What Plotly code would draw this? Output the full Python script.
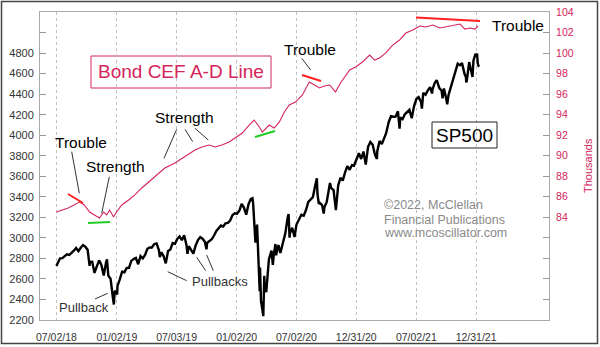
import plotly.graph_objects as go

# ---------------- data ----------------
sp_dates = [
    "2018-07-02","2018-07-06","2018-07-13","2018-07-20","2018-07-27","2018-08-03","2018-08-10","2018-08-17",
    "2018-08-24","2018-08-31","2018-09-07","2018-09-14","2018-09-21","2018-09-28","2018-10-05","2018-10-11",
    "2018-10-12","2018-10-19","2018-10-26","2018-11-02","2018-11-09","2018-11-16","2018-11-23","2018-11-30",
    "2018-12-03","2018-12-07","2018-12-14","2018-12-21","2018-12-24","2018-12-26","2018-12-28","2019-01-03",
    "2019-01-04","2019-01-11","2019-01-18","2019-01-25","2019-02-01","2019-02-08","2019-02-15","2019-02-22",
    "2019-03-01","2019-03-08","2019-03-15","2019-03-22","2019-03-29","2019-04-05","2019-04-12","2019-04-18",
    "2019-04-26","2019-05-03","2019-05-10","2019-05-13","2019-05-17","2019-05-24","2019-05-31","2019-06-07",
    "2019-06-14","2019-06-21","2019-06-28","2019-07-05","2019-07-12","2019-07-19","2019-07-26","2019-08-02",
    "2019-08-05","2019-08-09","2019-08-16","2019-08-23","2019-08-30","2019-09-06","2019-09-13","2019-09-20",
    "2019-09-27","2019-10-02","2019-10-04","2019-10-11","2019-10-18","2019-10-25","2019-11-01","2019-11-08",
    "2019-11-15","2019-11-22","2019-11-29","2019-12-06","2019-12-13","2019-12-20","2019-12-27","2020-01-03",
    "2020-01-10","2020-01-17","2020-01-24","2020-01-31","2020-02-07","2020-02-14","2020-02-19","2020-02-21",
    "2020-02-25","2020-02-28","2020-03-04","2020-03-06","2020-03-09","2020-03-12","2020-03-13","2020-03-16",
    "2020-03-20","2020-03-23","2020-03-26","2020-03-27","2020-04-01","2020-04-09","2020-04-17","2020-04-21",
    "2020-04-24","2020-04-29","2020-05-01","2020-05-08","2020-05-14","2020-05-15","2020-05-22","2020-05-29",
    "2020-06-05","2020-06-08","2020-06-11","2020-06-12","2020-06-19","2020-06-26","2020-07-02","2020-07-10",
    "2020-07-17","2020-07-24","2020-07-31","2020-08-07","2020-08-14","2020-08-21","2020-08-28","2020-09-02",
    "2020-09-04","2020-09-08","2020-09-11","2020-09-18","2020-09-23","2020-09-25","2020-10-02","2020-10-09",
    "2020-10-12","2020-10-16","2020-10-23","2020-10-30","2020-11-06","2020-11-13","2020-11-20","2020-11-27",
    "2020-12-04","2020-12-11","2020-12-18","2020-12-24","2020-12-31","2021-01-08","2021-01-15","2021-01-22",
    "2021-01-29","2021-02-05","2021-02-12","2021-02-19","2021-02-26","2021-03-04","2021-03-05","2021-03-12",
    "2021-03-19","2021-03-26","2021-04-01","2021-04-09","2021-04-16","2021-04-23","2021-04-30","2021-05-07",
    "2021-05-12","2021-05-14","2021-05-21","2021-05-28","2021-06-04","2021-06-11","2021-06-18","2021-06-25",
    "2021-07-02","2021-07-09","2021-07-16","2021-07-19","2021-07-23","2021-07-30","2021-08-06","2021-08-13",
    "2021-08-19","2021-08-20","2021-08-27","2021-09-02","2021-09-10","2021-09-17","2021-09-20","2021-09-24",
    "2021-10-01","2021-10-04","2021-10-08","2021-10-15","2021-10-22","2021-10-29","2021-11-05","2021-11-12",
    "2021-11-18","2021-11-26","2021-11-30","2021-12-01","2021-12-03","2021-12-10","2021-12-17","2021-12-20",
    "2021-12-23","2021-12-29","2021-12-31","2022-01-03","2022-01-05","2022-01-07","2022-01-10",
]
sp500 = [
    2727,2760,2801,2802,2819,2840,2833,2850,
    2875,2901,2871,2904,2930,2914,2885,2728,
    2767,2768,2658,2723,2781,2736,2633,2760,
    2790,2633,2600,2417,2351,2468,2486,2448,
    2532,2596,2671,2665,2707,2708,2776,2793,
    2804,2743,2822,2800,2834,2893,2907,2905,
    2940,2946,2881,2812,2860,2826,2752,2873,
    2887,2950,2942,2990,3014,2977,3026,2932,
    2844,2919,2889,2847,2926,2979,3007,2992,
    2962,2888,2952,2970,2986,3023,3067,3093,
    3120,3110,3141,3146,3169,3221,3240,3235,
    3265,3330,3295,3226,3328,3380,3386,3338,
    3128,2954,3130,2972,2747,2481,2711,2386,
    2305,2237,2630,2541,2471,2790,2875,2737,
    2837,2940,2831,2930,2852,2864,2955,3044,
    3194,3232,3002,3041,3098,3009,3130,3185,
    3225,3216,3271,3351,3373,3397,3508,3580,
    3427,3332,3341,3319,3237,3298,3348,3477,
    3534,3484,3465,3270,3510,3585,3558,3638,
    3699,3663,3709,3703,3756,3824,3768,3841,
    3714,3887,3934,3907,3811,3768,3842,3943,
    3913,3974,4020,4129,4185,4180,4181,4233,
    4063,4174,4156,4204,4230,4247,4166,4281,
    4352,4370,4327,4259,4412,4395,4437,4468,
    4406,4442,4509,4537,4459,4433,4358,4455,
    4357,4300,4391,4471,4545,4605,4697,4682,
    4704,4595,4567,4513,4538,4712,4620,4568,
    4725,4793,4766,4796,4701,4677,4670,
]

ad_dates = [
    "2018-07-02","2018-08-07","2018-09-10","2018-09-25","2018-10-11","2018-10-26","2018-11-10","2018-11-23",
    "2018-12-02","2018-12-11","2018-12-23","2019-01-01","2019-01-17","2019-02-07","2019-02-25","2019-03-19",
    "2019-04-09","2019-05-04","2019-05-28","2019-06-28","2019-07-28","2019-08-28","2019-09-18","2019-10-10",
    "2019-10-28","2019-11-18","2019-12-10","2019-12-28","2020-01-19","2020-02-09","2020-02-24","2020-03-11",
    "2020-03-20","2020-04-10","2020-04-25","2020-05-11","2020-05-26","2020-06-10","2020-06-29","2020-07-20",
    "2020-08-10","2020-08-26","2020-09-10","2020-09-25","2020-10-11","2020-10-29","2020-11-13","2020-12-11",
    "2020-12-29","2021-01-19","2021-02-10","2021-02-25","2021-03-12","2021-03-31","2021-04-21","2021-05-12",
    "2021-05-31","2021-06-21","2021-07-13","2021-07-31","2021-08-21","2021-09-12","2021-09-30","2021-10-21",
    "2021-11-12","2021-11-27","2021-12-12","2021-12-28","2022-01-06",
]
ad_line = [  # thousands
    84.52,84.91,85.49,85.20,84.52,84.23,83.93,84.52,
    84.23,84.71,84.03,84.52,85.20,85.69,86.17,86.86,
    87.44,88.12,88.80,89.29,89.88,90.56,90.85,91.04,
    90.85,91.04,91.34,91.73,92.21,92.99,93.48,92.80,
    92.31,92.99,92.70,93.29,94.26,94.94,95.23,95.92,
    97.18,96.89,96.60,96.79,96.89,96.21,97.08,98.35,
    98.64,99.13,99.81,99.32,99.52,100.01,100.78,101.27,
    101.95,102.25,102.64,102.54,102.73,102.44,102.54,102.73,
    102.83,102.34,102.44,102.34,102.64,
]

x_tick_dates = ["2018-07-02","2019-01-02","2019-07-03","2020-01-02","2020-07-02","2020-12-31","2021-07-02","2021-12-31"]
x_tick_text = ["07/02/18","01/02/19","07/03/19","01/02/20","07/02/20","12/31/20","07/02/21","12/31/21"]
left_ticks = list(range(2200, 5201, 200))
left_tick_text = [str(v) if v <= 4800 else "" for v in left_ticks]
right_ticks = list(range(74, 105, 2))
right_tick_text = [str(v) if v >= 84 else "" for v in right_ticks]

CRIMSON = "#d4245c"
FONT = "Arial, Liberation Sans, sans-serif"

# plot area in pixels
L, R, T, B = 40, 549, 12, 320
def P(x, y):
    return (x - L) / (R - L), (B - y) / (B - T)

fig = go.Figure()
fig.add_trace(go.Scatter(x=ad_dates, y=ad_line, yaxis="y2", mode="lines",
                         line=dict(color=CRIMSON, width=1.1), showlegend=False))
fig.add_trace(go.Scatter(x=sp_dates, y=sp500, mode="lines",
                         line=dict(color="black", width=2.4), showlegend=False))

shapes = []
# outer frame
x0, y0 = P(1.5, 1.5); x1, y1 = P(597.5, 343.5)
shapes.append(dict(type="rect", xref="paper", yref="paper", x0=x0, y0=y1, x1=x1, y1=y0,
                   line=dict(color="#444", width=1.5)))
# boxes
x0, y0 = P(91, 56); x1, y1 = P(271, 88)
shapes.append(dict(type="rect", xref="paper", yref="paper", x0=x0, y0=y1, x1=x1, y1=y0,
                   line=dict(color=CRIMSON, width=1), fillcolor="white", layer="below"))
x0, y0 = P(432, 122); x1, y1 = P(497, 148)
shapes.append(dict(type="rect", xref="paper", yref="paper", x0=x0, y0=y1, x1=x1, y1=y0,
                   line=dict(color="#222", width=1)))
# colored trend segments
segs = [((68, 194), (83, 203), "#ff2020"),
        ((88, 223), (110, 222), "#22cc22"),
        ((255, 137), (275, 131), "#22cc22"),
        ((302, 75), (321, 81), "#ff2020"),
        ((416, 17.5), (480, 21), "#ff2020")]
for a, b, c in segs:
    xa, ya = P(*a); xb, yb = P(*b)
    shapes.append(dict(type="line", xref="paper", yref="paper", x0=xa, y0=ya, x1=xb, y1=yb,
                       line=dict(color=c, width=2)))
# pointer lines
ptrs = [((71.7, 151.7), (79.3, 193.3)),
        ((109.3, 176.7), (101.7, 213.3)),
        ((176.7, 129.3), (164, 158.3)),
        ((185, 129.3), (192.7, 141.7)),
        ((195, 128.3), (208.3, 140)),
        ((301.7, 58.3), (310.7, 70)),
        ((95, 299), (107.7, 293.3)),
        ((186.7, 280.7), (167.7, 271.7)),
        ((205.7, 270.7), (196.7, 257.3)),
        ((213.3, 270.7), (206.7, 255))]
for a, b in ptrs:
    xa, ya = P(*a); xb, yb = P(*b)
    shapes.append(dict(type="line", xref="paper", yref="paper", x0=xa, y0=ya, x1=xb, y1=yb,
                       line=dict(color="#333", width=1)))

ann = []
def text(t, x, y, size, color="black", **kw):
    px, py = P(x, y)
    ann.append(dict(text=t, x=px, y=py, xref="paper", yref="paper", showarrow=False,
                    xanchor="center", yanchor="middle", font=dict(family=FONT, size=size, color=color), **kw))

text("Bond CEF A-D Line", 181, 72, 19, CRIMSON)
text("SP500", 464.5, 135, 19, "black")
text("Trouble", 81, 142, 15.5)
text("Strength", 115, 166, 15.5)
text("Strength", 184, 117, 15.5)
text("Trouble", 310, 50, 15.5)
text("Trouble", 518, 26, 15.5)
text("Pullback", 84, 307, 13, "#333")
text("Pullbacks", 220, 281, 13, "#333")
for t, y in [("©2022, McClellan", 205), ("Financial Publications", 220), ("www.mcoscillator.com", 233)]:
    px, py = P(382, y)
    ann.append(dict(text=t, x=px, y=py, xref="paper", yref="paper", showarrow=False,
                    xanchor="left", yanchor="middle", font=dict(family=FONT, size=12.5, color="#8a8a8a")))
text("Thousands", 588, 166, 11, CRIMSON, textangle=-90)

fig.update_layout(
    width=600, height=347, margin=dict(l=L, r=600 - R, t=T, b=347 - B, autoexpand=False),
    paper_bgcolor="white", plot_bgcolor="white",
    font=dict(family=FONT, size=11, color="#333"),
    shapes=shapes, annotations=ann,
    xaxis=dict(type="date", range=["2018-05-13", "2022-08-10"], automargin=False,
               tickvals=x_tick_dates, ticktext=x_tick_text, ticks="",
               showgrid=True, gridcolor="#c0c0c0", griddash="dot", gridwidth=1,
               showline=True, linecolor="#aaa", linewidth=1, mirror=True,
               tickfont=dict(size=10.5, color="#333"), ticklabelstandoff=7, zeroline=False),
    yaxis=dict(range=[2200, 5200], tickvals=left_ticks, ticktext=left_tick_text, automargin=False,
               ticks="inside", ticklen=6, tickcolor="#999", showgrid=False, zeroline=False,
               showline=True, linecolor="#aaa", linewidth=1, ticklabelstandoff=3,
               tickfont=dict(size=11, color="#333")),
    yaxis2=dict(range=[74, 104], tickvals=right_ticks, ticktext=right_tick_text, automargin=False,
                overlaying="y", side="right", ticks="inside", ticklen=6, tickcolor="#999",
                showgrid=False, zeroline=False, showline=True, linecolor="#aaa", linewidth=1,
                ticklabelstandoff=4, tickfont=dict(size=10.5, color=CRIMSON)),
)

fig.write_html("out.html")
